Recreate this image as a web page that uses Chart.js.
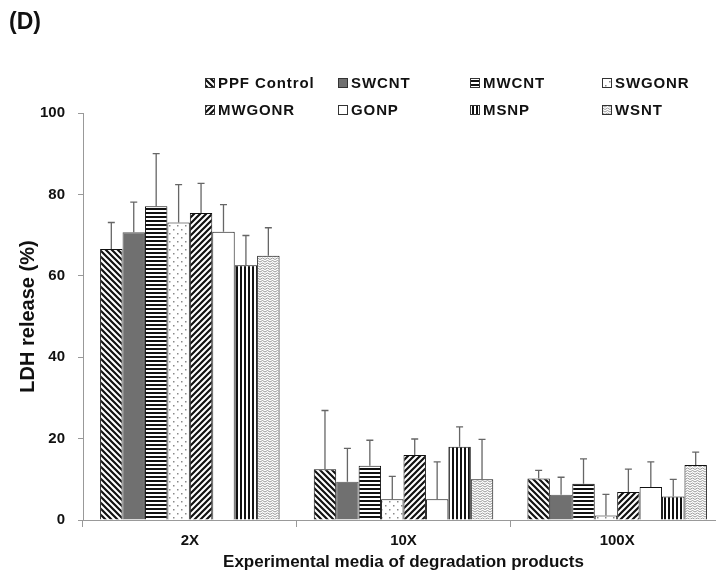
<!DOCTYPE html>
<html>
<head>
<meta charset="utf-8">
<script src="https://cdn.jsdelivr.net/npm/chart.js@4"></script>
<style>
  html, body { margin: 0; padding: 0; background: #fff; overflow: hidden; }
  #wrap { width: 716px; height: 573px; overflow: hidden; }
</style>
</head>
<body>
<div id="wrap"><canvas id="myChart" width="740" height="573"></canvas></div>
<script>
// Daten
var categories = ["2X", "10X", "100X"];
var seriesNames = ["PPF Control", "SWCNT", "MWCNT", "SWGONR", "MWGONR", "GONP", "MSNP", "WSNT"];
var yTicks = [0, 20, 40, 60, 80, 100];

var ppfControl = [66.6, 12.5, 10.2];
var swcnt      = [70.7, 9.4, 6.2];
var mwcnt      = [77.1, 13.3, 8.9];
var swgonr     = [73.1, 5.1, 1.1];
var mwgonr     = [75.4, 16.0, 6.9];
var gonp       = [70.8, 5.1, 8.1];
var msnp       = [62.6, 18.0, 5.8];
var wsnt       = [64.9, 10.0, 13.5];

// Standardabweichung (nur nach oben)
var ppfControlSd = [6.5, 14.4, 2.0];
var swcntSd      = [7.4, 8.2, 4.3];
var mwcntSd      = [12.9, 6.3, 6.1];
var swgonrSd     = [9.3, 5.6, 5.2];
var mwgonrSd     = [7.3, 3.9, 5.6];
var gonpSd       = [6.7, 9.2, 6.2];
var msnpSd       = [7.3, 4.9, 4.2];
var wsntSd       = [6.9, 9.8, 3.2];

var values = [ppfControl, swcnt, mwcnt, swgonr, mwgonr, gonp, msnp, wsnt];
var errors = [ppfControlSd, swcntSd, mwcntSd, swgonrSd, mwgonrSd, gonpSd, msnpSd, wsntSd];

var FONT = "'Liberation Sans', Arial, sans-serif";

// Muster erstellen
function makePattern(kind) {
    var c = document.createElement("canvas");
    var s = 6;
    if (kind == "hlines" || kind == "vlines") s = 4;
    if (kind == "dots") s = 8;
    if (kind == "zigzag") s = 5;
    c.width = s; c.height = s;
    var g = c.getContext("2d");
    g.fillStyle = "#fff";
    g.fillRect(0, 0, s, s);
    if (kind == "solid") {
        g.fillStyle = "#707070";
        g.fillRect(0, 0, s, s);
    } else if (kind == "back" || kind == "fwd") {
        g.strokeStyle = "#111";
        g.lineWidth = 2.2;
        g.beginPath();
        if (kind == "back") {
            g.moveTo(-1, -1); g.lineTo(s + 1, s + 1);
            g.moveTo(-1, s - 1); g.lineTo(1, s + 1);
            g.moveTo(s - 1, -1); g.lineTo(s + 1, 1);
        } else {
            g.moveTo(-1, s + 1); g.lineTo(s + 1, -1);
            g.moveTo(-1, 1); g.lineTo(1, -1);
            g.moveTo(s - 1, s + 1); g.lineTo(s + 1, s - 1);
        }
        g.stroke();
    } else if (kind == "hlines") {
        g.fillStyle = "#111";
        g.fillRect(0, 0, s, 2);
    } else if (kind == "vlines") {
        g.fillStyle = "#111";
        g.fillRect(0, 0, 2, s);
    } else if (kind == "dots") {
        g.fillStyle = "#8a8a8a";
        g.fillRect(1, 1, 1.5, 1.5);
        g.fillRect(5, 5, 1.5, 1.5);
    } else if (kind == "zigzag") {
        g.strokeStyle = "#999";
        g.lineWidth = 1;
        g.beginPath();
        g.moveTo(0, 2); g.lineTo(2.5, 0.5); g.lineTo(5, 2);
        g.moveTo(0, 4.5); g.lineTo(2.5, 3); g.lineTo(5, 4.5);
        g.stroke();
    }
    return g.createPattern(c, "repeat");
}

var patternKinds = ["back", "solid", "hlines", "dots", "fwd", "plain", "vlines", "zigzag"];

var datasets = [];
seriesNames.forEach(function (name, i) {
    datasets.push({
        label: name,
        data: values[i],
        errors: errors[i],
        backgroundColor: makePattern(patternKinds[i]),
        borderColor: i == 1 ? "#555" : "#111",
        borderWidth: 1,
        categoryPercentage: 0.84,
        barPercentage: 1.0
    });
});

// Fehlerbalken
var errorBars = {
    id: "errorBars",
    afterDatasetsDraw: function (chart) {
        var ctx = chart.ctx;
        var yScale = chart.scales.y;
        ctx.save();
        ctx.strokeStyle = "#666";
        ctx.lineWidth = 1.3;
        chart.data.datasets.forEach(function (ds, i) {
            var meta = chart.getDatasetMeta(i);
            meta.data.forEach(function (bar, j) {
                var top = yScale.getPixelForValue(ds.data[j] + ds.errors[j]);
                ctx.beginPath();
                ctx.moveTo(bar.x, bar.y);
                ctx.lineTo(bar.x, top);
                ctx.moveTo(bar.x - 3.5, top);
                ctx.lineTo(bar.x + 3.5, top);
                ctx.stroke();
            });
        });
        ctx.restore();
    }
};

// Legende und Panel-Buchstabe
var legendCols = [210, 343, 475, 607];
var legendRows = [83, 110];
var extras = {
    id: "extras",
    afterDraw: function (chart) {
        var ctx = chart.ctx;
        ctx.save();
        ctx.fillStyle = "#111";
        ctx.font = "bold 23px " + FONT;
        ctx.textBaseline = "middle";
        ctx.fillText("(D)", 9, 23);

        ctx.font = "bold 15px " + FONT;
        try { ctx.letterSpacing = "0.9px"; } catch (e) {}
        chart.data.datasets.forEach(function (ds, i) {
            var x = legendCols[i % 4];
            var y = legendRows[Math.floor(i / 4)];
            ctx.fillStyle = ds.backgroundColor;
            ctx.fillRect(x - 4.5, y - 4.5, 9, 9);
            ctx.strokeStyle = "#333";
            ctx.lineWidth = 1;
            ctx.strokeRect(x - 4.5, y - 4.5, 9, 9);
            ctx.fillStyle = "#111";
            ctx.fillText(ds.label, x + 8, y + 1);
        });
        ctx.restore();
    }
};

var canvas = document.getElementById("myChart");
var myChart = new Chart(canvas, {
    type: "bar",
    data: {
        labels: categories,
        datasets: datasets
    },
    options: {
        responsive: false,
        animation: false,
        layout: { padding: { top: 113, right: 16, left: 0, bottom: 0 } },
        plugins: {
            legend: { display: false },
            tooltip: { enabled: false }
        },
        scales: {
            x: {
                grid: { display: true, drawOnChartArea: false, drawTicks: true, tickLength: 7, color: "#999", offset: true },
                border: { color: "#999" },
                ticks: { color: "#111", padding: 5, font: { family: FONT, size: 15, weight: "bold" } },
                title: {
                    display: true,
                    text: "Experimental media of degradation products",
                    color: "#111",
                    font: { family: FONT, size: 17, weight: "bold" },
                    padding: { top: 0, bottom: 0 }
                },
                afterFit: function (scale) { scale.height = 53; }
            },
            y: {
                min: 0,
                max: 100,
                afterBuildTicks: function (scale) {
                    scale.ticks = yTicks.map(function (v) { return { value: v }; });
                },
                grid: { display: true, drawOnChartArea: false, drawTicks: true, tickLength: 5, color: "#999" },
                border: { color: "#999" },
                ticks: { color: "#111", padding: 13, font: { family: FONT, size: 15, weight: "bold" } },
                title: {
                    display: true,
                    text: "LDH release (%)",
                    color: "#111",
                    font: { family: FONT, size: 20, weight: "bold" },
                    padding: { top: 16, bottom: 0 }
                },
                afterFit: function (scale) { scale.width = 83; }
            }
        }
    },
    plugins: [errorBars, extras]
});
</script>
</body>
</html>
